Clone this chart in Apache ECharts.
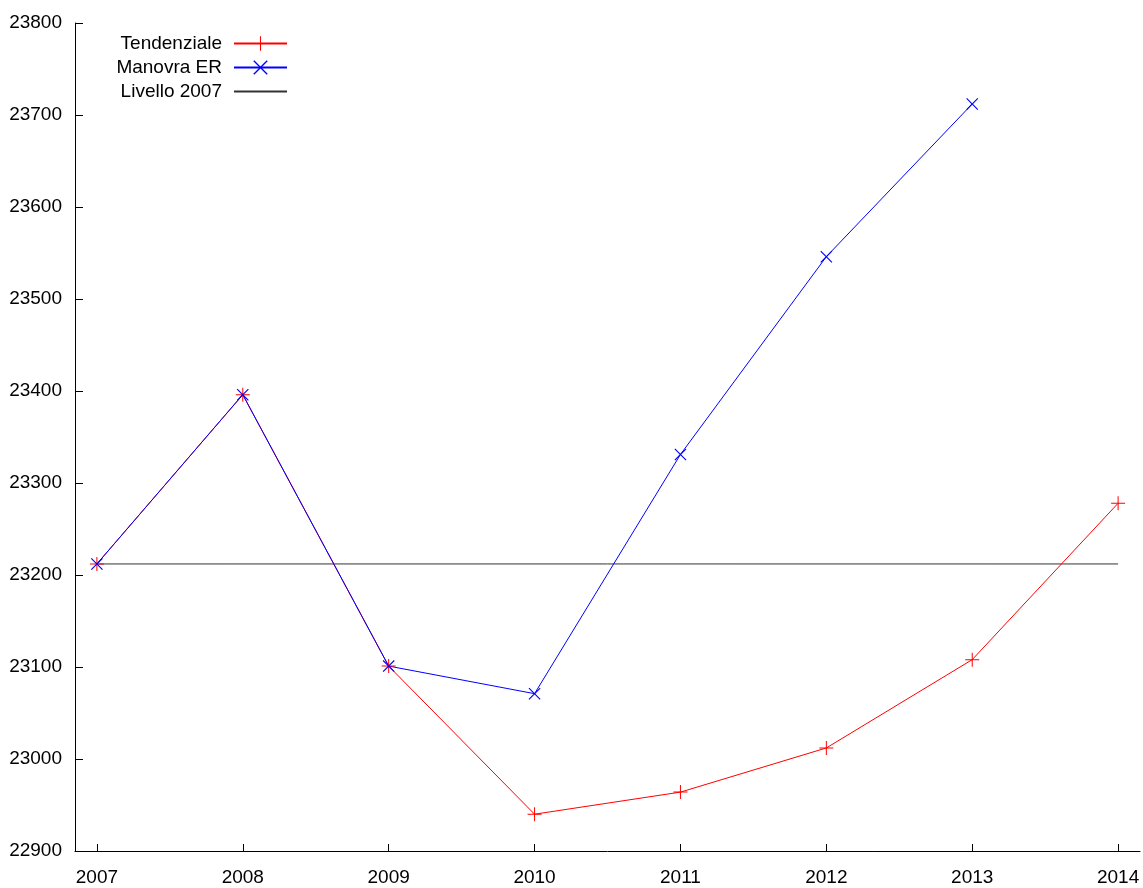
<!DOCTYPE html>
<html>
<head>
<meta charset="utf-8">
<title>Tendenziale vs Manovra ER</title>
<script src="https://cdn.jsdelivr.net/npm/echarts@6/dist/echarts.min.js"></script>
<style>
  html, body { margin: 0; padding: 0; background: #fff; }
  #chart { width: 1143px; height: 888px; }
</style>
</head>
<body>
<div id="chart"></div>
<script>
// values
const years = [2007, 2008, 2009, 2010, 2011, 2012, 2013, 2014];
const tendenziale = [23212, 23396, 23101, 22940, 22964, 23012, 23108, 23278];
const manovraER = [23212, 23396, 23101, 23071, 23331, 23546, 23712]; // stops at 2013
const livello2007 = 23212;

const font = "'Liberation Sans', Arial, sans-serif";
// filled outlines of a thin "+" and "x" (stroke-only paths came out black)
const plusIcon = "path://M6.5,0 L7.5,0 L7.5,6.5 L14,6.5 L14,7.5 L7.5,7.5 L7.5,14 L6.5,14 L6.5,7.5 L0,7.5 L0,6.5 L6.5,6.5 Z";
const crossIcon = "path://M0,0.8 L0.8,0 L6,5.2 L11.2,0 L12,0.8 L6.8,6 L12,11.2 L11.2,12 L6,6.8 L0.8,12 L0,11.2 L5.2,6 Z";
const red = "#ff0000";
const blue = "#0000ff";
const grey = "#333333";

const chart = echarts.init(document.getElementById("chart"));

chart.setOption({
  animation: false,
  backgroundColor: "#fff",
  grid: {
    left: 75,
    right: 3,
    top: 23,
    bottom: 37
  },
  legend: {
    orient: "vertical",
    align: "right",
    right: 855,
    top: 34,
    padding: 0,
    itemGap: 5,
    itemWidth: 53,
    itemHeight: 18,
    textStyle: {
      fontFamily: font,
      fontSize: 19,
      color: "#000",
      padding: [0, 7, 0, 0]
    },
    data: [
      { name: "Tendenziale" },
      { name: "Manovra ER" },
      { name: "Livello 2007", itemStyle: { opacity: 0 } }
    ]
  },
  xAxis: {
    type: "value",
    min: 2006.85,
    max: 2014.15,
    splitLine: { show: false },
    axisLine: { lineStyle: { color: "#000", width: 1 } },
    axisTick: {
      inside: true,
      length: 7,
      customValues: years,
      lineStyle: { color: "#000" }
    },
    axisLabel: {
      customValues: years,
      margin: 17,
      fontFamily: font,
      fontSize: 19,
      color: "#000",
      formatter: v => String(v)
    }
  },
  yAxis: {
    type: "value",
    min: 22900,
    max: 23800,
    interval: 100,
    splitLine: { show: false },
    axisLine: { show: true, lineStyle: { color: "#000", width: 1 } },
    axisTick: {
      show: true,
      inside: true,
      length: 8,
      lineStyle: { color: "#000" }
    },
    axisLabel: {
      margin: 13,
      fontFamily: font,
      fontSize: 19,
      color: "#000",
      padding: [4, 0, 0, 0],
      formatter: v => String(v)
    }
  },
  series: [
    {
      name: "Tendenziale",
      type: "line",
      data: years.map((y, i) => [y, tendenziale[i]]),
      symbol: plusIcon,
      symbolSize: 14,
      color: red,
      itemStyle: { color: red, borderWidth: 0 },
      lineStyle: { color: red, width: 1 }
    },
    {
      name: "Manovra ER",
      type: "line",
      data: manovraER.map((v, i) => [years[i], v]),
      symbol: crossIcon,
      symbolSize: 12,
      color: blue,
      itemStyle: { color: blue, borderWidth: 0 },
      lineStyle: { color: blue, width: 1 }
    },
    {
      name: "Livello 2007",
      type: "line",
      data: [[years[0], livello2007], [years[years.length - 1], livello2007]],
      symbol: "none",
      color: grey,
      lineStyle: { color: grey, width: 1 },
      z: 1
    }
  ]
});
</script>
</body>
</html>
